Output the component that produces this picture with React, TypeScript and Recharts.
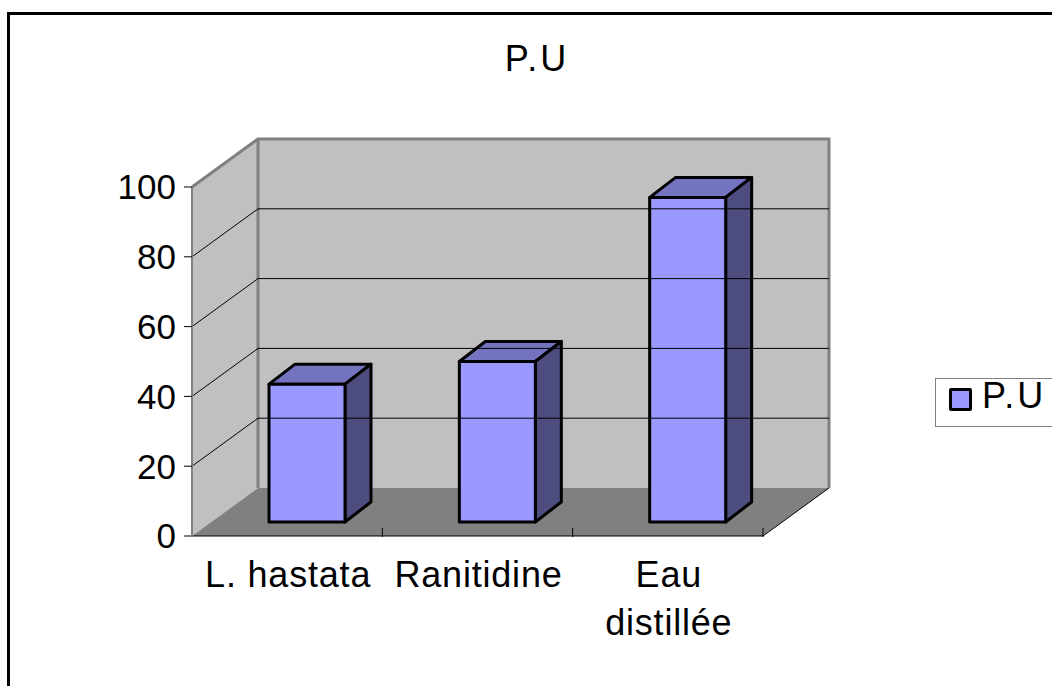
import { BarChart, Bar, XAxis, YAxis, ReferenceArea, ReferenceLine, Legend } from "recharts";

const categories = ["L. hastata", "Ranitidine", "Eau distillée"];
const puValues = [39.5, 46, 93];
const yTicks = [0, 20, 40, 60, 80, 100];
const gridValues = [20, 40, 60, 80];
const seriesName = "P.U";

const data = categories.map((name, i) => ({ name, pu: puValues[i] }));

const FONT = '"Liberation Sans", Arial, sans-serif';
// how far the back wall sits from the front plane
const WALL_DX = 66;
const WALL_DY = 48;
// bars stand part way into the floor
const BAR_SHIFT_X = 20;
const BAR_SHIFT_Y = 14;
const BAR_DX = 26;
const BAR_DY = 20;

function Walls({ x, y, width, height }: any) {
  const right = x + width;
  const bottom = y + height;
  const backLeft = x + WALL_DX;
  const backRight = right + WALL_DX;
  const backTop = y - WALL_DY;
  const backBottom = bottom - WALL_DY;
  return (
    <g>
      <rect x={backLeft} y={backTop} width={width} height={height} fill="#C0C0C0" />
      <polygon
        points={`${x},${y} ${backLeft},${backTop} ${backLeft},${backBottom} ${x},${bottom}`}
        fill="#C0C0C0"
      />
      <polygon
        points={`${x},${bottom} ${backLeft},${backBottom} ${backRight},${backBottom} ${right},${bottom}`}
        fill="#808080"
      />
      <polyline
        points={`${x},${y} ${backLeft},${backTop} ${backRight},${backTop} ${backRight},${backBottom}`}
        fill="none"
        stroke="#808080"
        strokeWidth={3}
      />
      <line x1={backLeft} y1={backTop} x2={backLeft} y2={backBottom} stroke="#808080" strokeWidth={3} />
      <line x1={right} y1={bottom} x2={backRight} y2={backBottom} stroke="#000" strokeWidth={1} />
    </g>
  );
}

function GridLine({ x1, y1, x2 }: any) {
  return (
    <polyline
      points={`${x1},${y1} ${x1 + WALL_DX},${y1 - WALL_DY} ${x2 + WALL_DX},${y1 - WALL_DY}`}
      fill="none"
      stroke="#000"
      strokeWidth={1}
    />
  );
}

function Bar3D({ x, y, width, height }: any) {
  const l = x + BAR_SHIFT_X;
  const t = y - BAR_SHIFT_Y;
  const r = l + width;
  const b = t + height;
  return (
    <g stroke="#000" strokeWidth={3} strokeLinejoin="round">
      <polygon
        points={`${l},${t} ${l + BAR_DX},${t - BAR_DY} ${r + BAR_DX},${t - BAR_DY} ${r},${t}`}
        fill="#7373BF"
      />
      <polygon
        points={`${r},${t} ${r + BAR_DX},${t - BAR_DY} ${r + BAR_DX},${b - BAR_DY} ${r},${b}`}
        fill="#4D4D7F"
      />
      <rect x={l} y={t} width={width} height={height} fill="#9999FF" />
    </g>
  );
}

function CategoryTick({ x, y, payload, index }: any) {
  const half = payload.offset ?? 95;
  // only the long label needs a second line
  const lines = payload.value.length > 11 ? payload.value.split(" ") : [payload.value];
  return (
    <g>
      {index === 0 && <line x1={x - half} y1={y - 16} x2={x - half} y2={y - 7} stroke="#808080" strokeWidth={2} />}
      <line x1={x + half} y1={y - 16} x2={x + half} y2={y - 7} stroke="#000" />
      <text
        x={x + 1}
        y={y + 43}
        textAnchor="middle"
        fill="#000"
        fontSize={36}
        fontFamily={FONT}
        letterSpacing={0.8}
      >
        {lines.map((line: string, i: number) => (
          <tspan key={line} x={x + 1} dy={i === 0 ? 0 : 48}>
            {line}
          </tspan>
        ))}
      </text>
    </g>
  );
}

function LegendBox() {
  return (
    <div
      style={{
        width: 120,
        height: 49,
        boxSizing: "border-box",
        border: "1px solid #808080",
        background: "#fff",
        position: "relative",
        fontFamily: FONT,
        fontSize: 36,
        letterSpacing: 3,
        color: "#000",
      }}
    >
      <div
        style={{
          position: "absolute",
          left: 13,
          top: 9,
          width: 23,
          height: 23,
          boxSizing: "border-box",
          background: "#9999FF",
          border: "3px solid #000",
          borderRadius: 2,
        }}
      />
      <span style={{ position: "absolute", left: 46, top: -2, lineHeight: "38px" }}>{seriesName}</span>
    </div>
  );
}

export default function App() {
  return (
    <div
      style={{
        position: "fixed",
        left: 0,
        top: 0,
        width: 1052,
        height: 686,
        overflow: "hidden",
        background: "#fff",
        fontFamily: FONT,
      }}
    >
      <div
        style={{
          position: "absolute",
          left: 7,
          top: 12,
          width: 1200,
          height: 900,
          border: "3px solid #000",
        }}
      />
      <div
        style={{
          position: "absolute",
          left: 0,
          width: 1074,
          top: 38,
          textAlign: "center",
          fontSize: 36,
          lineHeight: "42px",
          letterSpacing: 3,
          color: "#000",
        }}
      >
        {seriesName}
      </div>
      <div style={{ position: "absolute", left: 0, top: 0 }}>
        <BarChart
          width={1052}
          height={686}
          data={data}
          barSize={76}
          margin={{ top: 187, right: 169, bottom: 90, left: 92 }}
        >
          <ReferenceArea y1={0} y2={100} shape={<Walls />} fill="none" stroke="none" />
          {gridValues.map((v) => (
            <ReferenceLine key={v} y={v} shape={<GridLine />} />
          ))}
          <XAxis
            dataKey="name"
            height={60}
            interval={0}
            axisLine={{ stroke: "#000", strokeWidth: 1 }}
            tickLine={false}
            tick={<CategoryTick />}
          />
          <YAxis
            width={100}
            domain={[0, 100]}
            ticks={yTicks}
            interval={0}
            tickSize={8}
            tickMargin={8}
            axisLine={{ stroke: "#808080", strokeWidth: 2 }}
            tickLine={{ stroke: "#000" }}
            tick={{ fontSize: 35, fill: "#000", fontFamily: FONT }}
          />
          <Bar dataKey="pu" name={seriesName} shape={<Bar3D />} isAnimationActive={false} />
          <Legend
            layout="vertical"
            align="right"
            verticalAlign="middle"
            width={120}
            wrapperStyle={{ left: 935, top: 378, right: "auto", bottom: "auto", width: 120 }}
            content={<LegendBox />}
          />
        </BarChart>
      </div>
    </div>
  );
}
